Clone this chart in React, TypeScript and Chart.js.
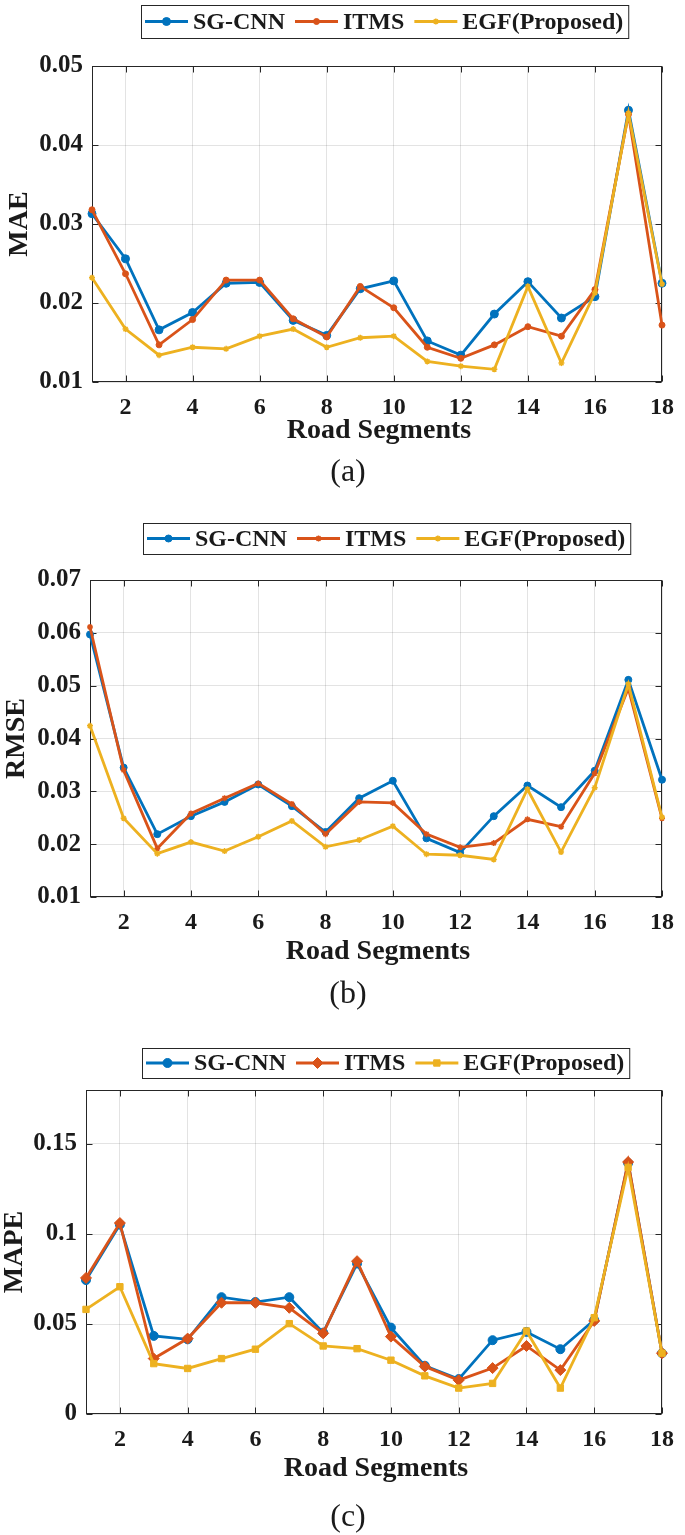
import React, { useEffect, useRef } from 'react';
import { Chart, registerables } from 'chart.js';
import { drawPoint } from 'chart.js/helpers';

Chart.register(...registerables);

// ---------------- DATA ----------------
const segments = [1, 2, 3, 4, 5, 6, 7, 8, 9, 10, 11, 12, 13, 14, 15, 16, 17, 18];
const xTickValues = [2, 4, 6, 8, 10, 12, 14, 16, 18];
const xTickLabels = ['2', '4', '6', '8', '10', '12', '14', '16', '18'];
const seriesNames = ['SG-CNN', 'ITMS', 'EGF(Proposed)'];

const maeSGCNN = [0.0313, 0.0256, 0.0166, 0.0188, 0.0225, 0.0226, 0.0178, 0.0159, 0.0218, 0.0228, 0.0152, 0.0134, 0.0186, 0.0227, 0.0181, 0.0208, 0.0444, 0.0225];
const maeITMS = [0.0318, 0.0237, 0.0147, 0.0179, 0.0229, 0.0229, 0.0180, 0.0157, 0.0221, 0.0194, 0.0144, 0.0130, 0.0147, 0.0170, 0.0158, 0.0217, 0.0439, 0.0172];
const maeEGF = [0.0232, 0.0167, 0.0134, 0.0144, 0.0142, 0.0158, 0.0167, 0.0144, 0.0156, 0.0158, 0.0126, 0.0120, 0.0116, 0.0221, 0.0124, 0.0213, 0.0440, 0.0224];
const maeTicks = [0.01, 0.02, 0.03, 0.04, 0.05];
const maeTickLabels = ['0.01', '0.02', '0.03', '0.04', '0.05'];

const rmseSGCNN = [0.0597, 0.0345, 0.0219, 0.0253, 0.0280, 0.0313, 0.0272, 0.0223, 0.0287, 0.0320, 0.0211, 0.0184, 0.0253, 0.0311, 0.0270, 0.0339, 0.0511, 0.0322];
const rmseITMS = [0.0611, 0.0340, 0.0192, 0.0258, 0.0287, 0.0315, 0.0276, 0.0219, 0.0280, 0.0278, 0.0219, 0.0194, 0.0202, 0.0247, 0.0233, 0.0334, 0.0495, 0.0249];
const rmseEGF = [0.0424, 0.0249, 0.0182, 0.0204, 0.0187, 0.0214, 0.0244, 0.0195, 0.0208, 0.0234, 0.0181, 0.0179, 0.0171, 0.0304, 0.0185, 0.0307, 0.0503, 0.0251];
const rmseTicks = [0.01, 0.02, 0.03, 0.04, 0.05, 0.06, 0.07];
const rmseTickLabels = ['0.01', '0.02', '0.03', '0.04', '0.05', '0.06', '0.07'];

const mapeSGCNN = [0.0744, 0.1052, 0.0434, 0.0415, 0.0649, 0.0622, 0.0649, 0.0452, 0.0836, 0.0480, 0.0268, 0.0194, 0.0410, 0.0456, 0.0360, 0.0522, 0.1394, 0.0338];
const mapeITMS = [0.0756, 0.1061, 0.0308, 0.0419, 0.0618, 0.0618, 0.0590, 0.0448, 0.0849, 0.0430, 0.0264, 0.0188, 0.0255, 0.0378, 0.0244, 0.0517, 0.1400, 0.0338];
const mapeEGF = [0.0581, 0.0707, 0.0280, 0.0253, 0.0308, 0.0360, 0.0502, 0.0378, 0.0363, 0.0299, 0.0212, 0.0144, 0.0170, 0.0461, 0.0144, 0.0535, 0.1370, 0.0338];
const mapeTicks = [0, 0.05, 0.1, 0.15];
const mapeTickLabels = ['0', '0.05', '0.1', '0.15'];

// ---------------- STYLE ----------------
const COLORS = ['#0072BD', '#D95319', '#EDB120'];
const SERIF = '"Liberation Serif", "Times New Roman", serif';
const INK = '#1a1a1a';
const LINE_W = 2.8;

type Marker = { style: string; radius: number; bw: number };

type Panel = {
  key: string;
  top: number;
  height: number;
  left: number;
  right: number;
  plotTop: number;
  plotBottom: number;
  yMin: number;
  yMax: number;
  yTicks: number[];
  yTickLabels: string[];
  yTitle: string;
  yTitleX: number;
  sub: string;
  xTitleDy: number;
  subDy: number;
  series: number[][];
  markers: Marker[];
  legend: { left: number; top: number; h: number };
};

const panels: Panel[] = [
  {
    key: 'a', top: 0, height: 500, left: 92, right: 670, plotTop: 66, plotBottom: 382,
    yMin: 0.01, yMax: 0.05, yTicks: maeTicks, yTickLabels: maeTickLabels,
    yTitle: 'MAE', yTitleX: 20, sub: '(a)', xTitleDy: 49, subDy: 91,
    series: [maeSGCNN, maeITMS, maeEGF],
    markers: [
      { style: 'circle', radius: 4, bw: 1 },
      { style: 'circle', radius: 3, bw: 1 },
      { style: 'star', radius: 3, bw: 1.5 },
    ],
    legend: { left: 141, top: 5, h: 33 },
  },
  {
    key: 'b', top: 500, height: 520, left: 90, right: 668, plotTop: 580, plotBottom: 897,
    yMin: 0.01, yMax: 0.07, yTicks: rmseTicks, yTickLabels: rmseTickLabels,
    yTitle: 'RMSE', yTitleX: 17, sub: '(b)', xTitleDy: 55, subDy: 98,
    series: [rmseSGCNN, rmseITMS, rmseEGF],
    markers: [
      { style: 'circle', radius: 3.5, bw: 1 },
      { style: 'star', radius: 3, bw: 1.5 },
      { style: 'star', radius: 3, bw: 1.5 },
    ],
    legend: { left: 143, top: 23, h: 31 },
  },
  {
    key: 'c', top: 1020, height: 515, left: 86, right: 669, plotTop: 1090, plotBottom: 1414,
    yMin: 0, yMax: 0.18, yTicks: mapeTicks, yTickLabels: mapeTickLabels,
    yTitle: 'MAPE', yTitleX: 15, sub: '(c)', xTitleDy: 55, subDy: 104,
    series: [mapeSGCNN, mapeITMS, mapeEGF],
    markers: [
      { style: 'circle', radius: 4.5, bw: 1 },
      { style: 'rectRot', radius: 5.5, bw: 1 },
      { style: 'rect', radius: 4.5, bw: 1 },
    ],
    legend: { left: 142, top: 28, h: 30 },
  },
];

function makeDecor(p: Panel) {
  return {
    id: 'decor_' + p.key,
    beforeDatasetsDraw(chart: any) {
      const { ctx, chartArea: a, scales } = chart;
      ctx.save();
      ctx.strokeStyle = '#262626';
      ctx.lineWidth = 1;
      const L = Math.round(a.left) + 0.5;
      const T = Math.round(a.top) + 0.5;
      const R = Math.round(a.right) - 0.5;
      const B = Math.round(a.bottom) - 0.5;
      ctx.strokeRect(L, T, R - L, B - T);
      const tl = 6;
      ctx.beginPath();
      for (const t of scales.x.ticks) {
        const px = Math.round(scales.x.getPixelForValue(t.value)) + 0.5;
        ctx.moveTo(px, B);
        ctx.lineTo(px, B - tl);
        ctx.moveTo(px, T);
        ctx.lineTo(px, T + tl);
      }
      for (const t of scales.y.ticks) {
        const py = Math.round(scales.y.getPixelForValue(t.value)) + 0.5;
        ctx.moveTo(L, py);
        ctx.lineTo(L + tl, py);
        ctx.moveTo(R, py);
        ctx.lineTo(R - tl, py);
      }
      ctx.stroke();
      ctx.restore();
    },
    afterDraw(chart: any) {
      const { ctx, chartArea: a } = chart;
      ctx.save();
      ctx.fillStyle = INK;
      // y title
      ctx.font = `bold 28px ${SERIF}`;
      ctx.textAlign = 'center';
      ctx.textBaseline = 'middle';
      ctx.save();
      ctx.translate(p.yTitleX, (a.top + a.bottom) / 2);
      ctx.rotate(-Math.PI / 2);
      ctx.fillText(p.yTitle, 0, 0);
      ctx.restore();
      // x title
      ctx.fillText('Road Segments', (a.left + a.right) / 2 + 2, a.bottom + p.xTitleDy);
      // sub label
      ctx.font = `32px ${SERIF}`;
      ctx.fillText(p.sub, 348, a.bottom + p.subDy);

      // legend
      const lg = p.legend;
      ctx.font = `bold 24px ${SERIF}`;
      const cy = lg.top + lg.h / 2;
      const lineLen = 43;
      let x = lg.left + 4;
      const items: { x: number; w: number }[] = [];
      for (let i = 0; i < seriesNames.length; i++) {
        const w = ctx.measureText(seriesNames[i]).width;
        items.push({ x, w });
        x += lineLen + 5 + w + 10;
      }
      const boxW = x - 10 + 5 - lg.left;
      ctx.fillStyle = '#ffffff';
      ctx.fillRect(lg.left, lg.top, boxW, lg.h);
      ctx.strokeStyle = '#262626';
      ctx.lineWidth = 1;
      ctx.strokeRect(lg.left + 0.5, lg.top + 0.5, boxW, lg.h);
      for (let i = 0; i < seriesNames.length; i++) {
        const it = items[i];
        ctx.strokeStyle = COLORS[i];
        ctx.fillStyle = COLORS[i];
        ctx.lineWidth = LINE_W;
        ctx.beginPath();
        ctx.moveTo(it.x, cy);
        ctx.lineTo(it.x + lineLen, cy);
        ctx.stroke();
        const m = p.markers[i];
        ctx.lineWidth = m.bw;
        drawPoint(ctx, { pointStyle: m.style as any, radius: m.radius, rotation: 0, borderWidth: m.bw }, it.x + lineLen / 2, cy);
        ctx.fillStyle = INK;
        ctx.textAlign = 'left';
        ctx.textBaseline = 'middle';
        ctx.fillText(seriesNames[i], it.x + lineLen + 5, cy + 1);
      }
      ctx.restore();
    },
  };
}

function ChartPanel({ p }: { p: Panel }) {
  const ref = useRef<HTMLCanvasElement>(null);
  useEffect(() => {
    if (!ref.current) return;
    const datasets = p.series.map((vals, i) => ({
      label: seriesNames[i],
      data: segments.map((s, j) => ({ x: s, y: vals[j] })),
      borderColor: COLORS[i],
      backgroundColor: COLORS[i],
      borderWidth: LINE_W,
      pointStyle: p.markers[i].style as any,
      pointRadius: p.markers[i].radius,
      pointBorderWidth: p.markers[i].bw,
      pointBackgroundColor: COLORS[i],
      pointBorderColor: COLORS[i],
      tension: 0,
      clip: false as any,
      order: 2 - i,
    }));
    const xAxisHeight = p.height - (p.plotBottom - p.top);
    const chart = new Chart(ref.current, {
      type: 'line',
      data: { datasets },
      options: {
        animation: false,
        responsive: false,
        maintainAspectRatio: false,
        devicePixelRatio: 1,
        layout: { padding: { top: p.plotTop - p.top, right: 685 - p.right, left: 0, bottom: 0 } },
        plugins: { legend: { display: false }, tooltip: { enabled: false } },
        scales: {
          x: {
            type: 'linear',
            min: 1,
            max: 18,
            afterBuildTicks: (s: any) => {
              s.ticks = xTickValues.map((v) => ({ value: v }));
            },
            afterFit: (s: any) => {
              s.height = xAxisHeight;
            },
            ticks: {
              autoSkip: false,
              maxRotation: 0,
              padding: 11,
              color: INK,
              font: { family: SERIF, weight: 'bold', size: 24 },
              callback: (v: any) => {
                const k = xTickValues.indexOf(Number(v));
                return k >= 0 ? xTickLabels[k] : '';
              },
            },
            grid: { color: 'rgba(0,0,0,0.11)', lineWidth: 1, drawTicks: false },
            border: { display: false },
          },
          y: {
            type: 'linear',
            min: p.yMin,
            max: p.yMax,
            afterBuildTicks: (s: any) => {
              s.ticks = p.yTicks.map((v) => ({ value: v }));
            },
            afterFit: (s: any) => {
              s.width = p.left;
            },
            ticks: {
              autoSkip: false,
              padding: 9,
              color: INK,
              font: { family: SERIF, weight: 'bold', size: 25 },
              callback: (v: any) => {
                const k = p.yTicks.findIndex((t) => Math.abs(t - Number(v)) < 1e-9);
                return k >= 0 ? p.yTickLabels[k] : '';
              },
            },
            grid: { color: 'rgba(0,0,0,0.11)', lineWidth: 1, drawTicks: false },
            border: { display: false },
          },
        },
      },
      plugins: [makeDecor(p)],
    });
    return () => chart.destroy();
  }, []);
  return (
    <canvas
      ref={ref}
      width={685}
      height={p.height}
      style={{ position: 'absolute', left: 0, top: p.top, width: 685, height: p.height, display: 'block' }}
    />
  );
}

export default function App() {
  return (
    <div style={{ position: 'absolute', left: 0, top: 0, width: 685, height: 1535, background: '#ffffff' }}>
      {panels.map((p) => (
        <ChartPanel key={p.key} p={p} />
      ))}
    </div>
  );
}
